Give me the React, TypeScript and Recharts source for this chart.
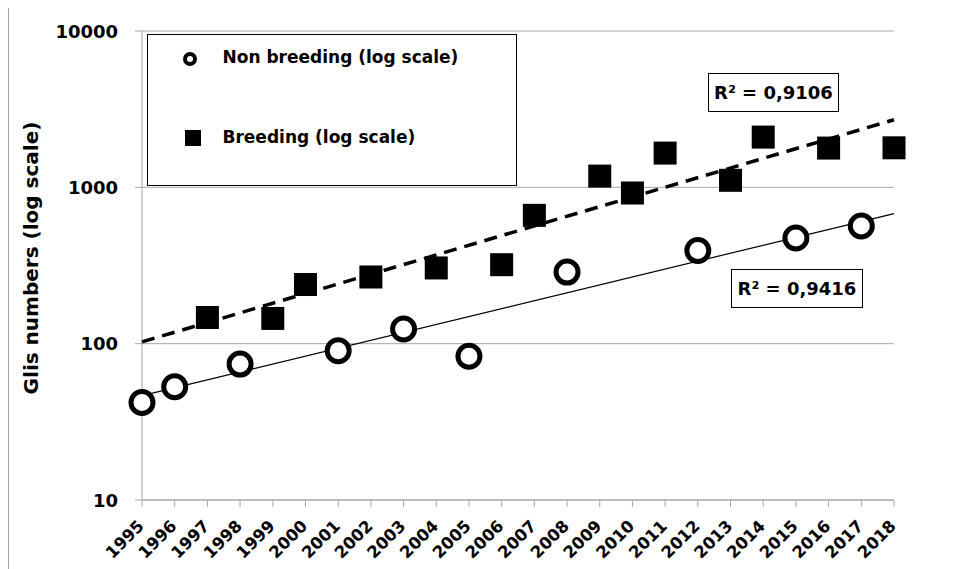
import React from 'react';
import { ScatterChart, Scatter, XAxis, YAxis, CartesianGrid, Legend } from 'recharts';

const years = [1995, 1996, 1997, 1998, 1999, 2000, 2001, 2002, 2003, 2004, 2005, 2006, 2007, 2008, 2009, 2010, 2011, 2012, 2013, 2014, 2015, 2016, 2017, 2018];
const yTicks = [10, 100, 1000, 10000];

const nonBreedingYears = [1995, 1996, 1998, 2001, 2003, 2005, 2008, 2012, 2015, 2017];
const nonBreedingValues = [42, 53, 74, 90, 124, 83, 287, 394, 474, 566];

const breedingYears = [1997, 1999, 2000, 2002, 2004, 2006, 2007, 2009, 2010, 2011, 2013, 2014, 2016, 2018];
const breedingValues = [147, 145, 239, 267, 305, 320, 662, 1180, 920, 1656, 1109, 2096, 1783, 1790];

const trendYears = [1995, 2018];
const trendNonBreeding = [46.5, 679];
const trendBreeding = [102.7, 2707];

const r2Labels = ['R² = 0,9106', 'R² = 0,9416'];
const legendLabels = ['Non breeding (log scale)', 'Breeding (log scale)'];
const yTitle = 'Glis numbers (log scale)';

const FONT = '"DejaVu Sans", sans-serif';

const toPoints = (xs: number[], ys: number[]) => xs.map((x, i) => ({ x, y: ys[i] }));

const nbData = toPoints(nonBreedingYears, nonBreedingValues);
const bData = toPoints(breedingYears, breedingValues);
const nbTrend = toPoints(trendYears, trendNonBreeding);
const bTrend = toPoints(trendYears, trendBreeding);

const CircleShape = (props: any) => {
  const { cx, cy } = props;
  if (cx == null || cy == null) return <g />;
  return <circle cx={cx} cy={cy} r={11} fill="#fff" stroke="#000" strokeWidth={5} />;
};

const SquareShape = (props: any) => {
  const { cx, cy } = props;
  if (cx == null || cy == null) return <g />;
  return <rect x={cx - 11.5} y={cy - 11.5} width={23} height={23} fill="#000" />;
};

const NoShape = () => <g />;

const XTick = (props: any) => {
  const { x, y, payload } = props;
  return (
    <g transform={`translate(${x + 3},${y + 20})`}>
      <text
        x={0}
        y={0}
        textAnchor="end"
        transform="rotate(-45)"
        fontFamily={FONT}
        fontWeight="bold"
        fontSize={16.5}
        fill="#000"
      >
        {payload.value}
      </text>
    </g>
  );
};

const YTick = (props: any) => {
  const { x, y, payload } = props;
  return (
    <text
      x={x}
      y={y}
      textAnchor="end"
      dominantBaseline="central"
      fontFamily={FONT}
      fontWeight="bold"
      fontSize={18}
      fill="#000"
    >
      {payload.value}
    </text>
  );
};

const YTitle = () => (
  <text
    x={23}
    y={250}
    textAnchor="middle"
    dominantBaseline="central"
    transform="rotate(-90, 23, 250)"
    fontFamily={FONT}
    fontWeight="bold"
    fontSize={20}
    fill="#000"
  >
    {yTitle}
  </text>
);

const LegendBox = () => (
  <div
    style={{
      width: 370,
      height: 152,
      boxSizing: 'border-box',
      border: '1.5px solid #000',
      background: '#fff',
      position: 'relative',
      fontFamily: FONT,
      fontWeight: 'bold',
      fontSize: 17,
      color: '#000',
    }}
  >
    <svg style={{ position: 'absolute', left: 33, top: 15 }} width={18} height={18}>
      <circle cx={9} cy={9} r={5} fill="#fff" stroke="#000" strokeWidth={4} />
    </svg>
    <div style={{ position: 'absolute', left: 75, top: 11, lineHeight: '22px', whiteSpace: 'nowrap' }}>
      {legendLabels[0]}
    </div>
    <svg style={{ position: 'absolute', left: 36, top: 94 }} width={18} height={18}>
      <rect x={1} y={1} width={16} height={16} fill="#000" />
    </svg>
    <div style={{ position: 'absolute', left: 75, top: 91, lineHeight: '22px', whiteSpace: 'nowrap' }}>
      {legendLabels[1]}
    </div>
  </div>
);

const r2BoxStyle: React.CSSProperties = {
  position: 'absolute',
  boxSizing: 'border-box',
  border: '1.5px solid #000',
  background: '#fff',
  fontFamily: FONT,
  fontWeight: 'bold',
  fontSize: 18,
  color: '#000',
  display: 'flex',
  alignItems: 'center',
  justifyContent: 'center',
  whiteSpace: 'nowrap',
};

export default function App() {
  return (
    <div style={{ position: 'relative', width: 948, height: 561 }}>
      <div
        style={{
          position: 'absolute',
          left: 0,
          top: -1,
          width: 960,
          height: 580,
          borderTop: '1px solid #a6a6a6',
          borderLeft: '1px solid #a6a6a6',
          pointerEvents: 'none',
        }}
      />
      <ScatterChart width={948} height={561} margin={{ top: 23, right: 62, bottom: 9, left: 0 }}>
        <CartesianGrid vertical={false} stroke="#a6a6a6" strokeWidth={1} />
        <XAxis
          type="number"
          dataKey="x"
          domain={[1995, 2018]}
          ticks={years}
          interval={0}
          height={60}
          tickSize={7}
          tickMargin={0}
          stroke="#a6a6a6"
          tick={<XTick />}
        />
        <YAxis
          type="number"
          dataKey="y"
          scale="log"
          domain={[10, 10000]}
          ticks={yTicks}
          interval={0}
          width={134}
          tickSize={7}
          tickMargin={17}
          stroke="#a6a6a6"
          tick={<YTick />}
          label={<YTitle />}
        />
        <Legend
          layout="horizontal"
          verticalAlign="middle"
          align="center"
          content={<LegendBox />}
          wrapperStyle={{ left: 138.5, top: 26, width: 370, height: 152 }}
        />
        <Scatter
          data={bTrend}
          line={{ stroke: '#000', strokeWidth: 3.5, strokeDasharray: '13 8' }}
          shape={<NoShape />}
          isAnimationActive={false}
          legendType="none"
        />
        <Scatter
          data={nbTrend}
          line={{ stroke: '#000', strokeWidth: 1.2 }}
          shape={<NoShape />}
          isAnimationActive={false}
          legendType="none"
        />
        <Scatter data={bData} shape={<SquareShape />} isAnimationActive={false} />
        <Scatter data={nbData} shape={<CircleShape />} isAnimationActive={false} />
      </ScatterChart>
      <div style={{ ...r2BoxStyle, left: 700, top: 65, width: 131, height: 39 }}>{r2Labels[0]}</div>
      <div style={{ ...r2BoxStyle, left: 723, top: 261, width: 132, height: 39 }}>{r2Labels[1]}</div>
    </div>
  );
}
